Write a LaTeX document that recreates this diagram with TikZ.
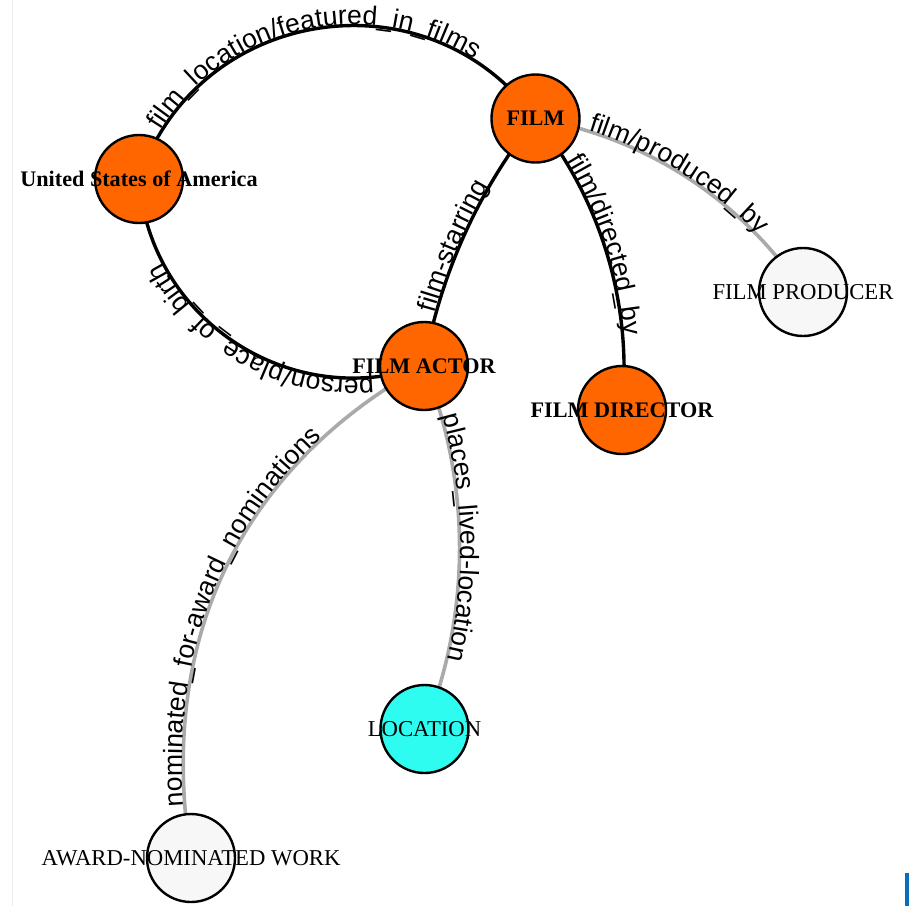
\documentclass[tikz,border=0pt]{standalone}
\usepackage{fontspec}
\setmainfont{Liberation Serif}
\newfontfamily\edgesans{Liberation Sans}
\usetikzlibrary{decorations.text,backgrounds}
\definecolor{nodeorange}{RGB}{255,102,0}
\definecolor{nodecyan}{RGB}{46,252,240}
\definecolor{nodepale}{RGB}{247,247,247}
\definecolor{edgegray}{RGB}{170,170,170}
\definecolor{barblue}{RGB}{10,110,190}
\definecolor{framegray}{RGB}{236,236,236}
\newcommand\edgefont{\edgesans\fontsize{26.5}{31}\selectfont}
\begin{document}
\begin{tikzpicture}[x=1pt,y=1pt,
  vertex/.style={circle, draw=black, line width=2.4pt, minimum size=88pt, inner sep=0pt},
  hot/.style={vertex, fill=nodeorange},
  pale/.style={vertex, fill=nodepale},
  sea/.style={vertex, fill=nodecyan},
  boldlbl/.style={font=\fontsize{22.2}{26}\selectfont\bfseries, inner sep=0pt, text=black},
  plainlbl/.style={font=\fontsize{22.7}{26}\selectfont, inner sep=0pt, text=black},
  darkedge/.style={draw=black, line width=3.4pt},
  lightedge/.style={draw=edgegray, line width=3.6pt},
  edgetext/.style 2 args={postaction={decorate, decoration={text along path,
      text align={align=left, left indent=#2}, text color=black, raise=1pt,
      text={|\edgefont|#1}}}}
]
\useasboundingbox (0,0) rectangle (909,-906);

% nodes
\node[hot]  (usa)      at (139,-179)   {};
\node[hot]  (film)     at (535.5,-118.5) {};
\node[hot]  (actor)    at (424,-366)   {};
\node[hot]  (director) at (622,-410)   {};
\node[pale] (producer) at (803,-292)   {};
\node[sea]  (location) at (424.5,-729) {};
\node[pale] (award)    at (191,-858)   {};

\node[boldlbl]  (usa-l)      at (usa)      {United States of America};
\node[boldlbl]  (film-l)     at (film)     {FILM};
\node[boldlbl]  (actor-l)    at (actor)    {FILM ACTOR};
\node[boldlbl]  (director-l) at (director) {FILM DIRECTOR};
\node[plainlbl] (producer-l) at (producer) {FILM PRODUCER};
\node[plainlbl] (location-l) at (location) {LOCATION};
\node[plainlbl] (award-l)    at (award)    {AWARD-NOMINATED WORK};

\begin{scope}[on background layer]
  \fill[white] (0,0) rectangle (909,-906);
  \draw[framegray, line width=1pt] (12,0) -- (12,-906);
  \fill[barblue] (905,-873) rectangle (909,-906);

  \draw[darkedge, edgetext={film{\_}location/featured{\_}in{\_}films}{53pt}]
    (usa.center) to[bend left=62.7, looseness=1.17] (film.center);
  \draw[darkedge, edgetext={person/place{\_}of{\_}birth}{52pt}]
    (actor.center) to[bend left=52.4, looseness=1.06] (usa.center);
  \draw[darkedge, edgetext={film-starring}{54pt}]
    (actor.center) to[bend left=14.3, looseness=0.87] (film.center);
  \draw[darkedge, edgetext={film/directed{\_}by}{52pt}]
    (film.center) to[bend left=22.4, looseness=0.885] (director.center);
  \draw[lightedge, edgetext={film/produced{\_}by}{54pt}]
    (film.center) to[bend left=23.4, looseness=0.89] (producer.center);
  \draw[lightedge, edgetext={places{\_}lived-location}{53pt}]
    (actor.center) to[bend left=22.1, looseness=0.884] (location.center);
  \draw[lightedge, edgetext={nominated{\_}for-award{\_}nominations}{52pt}]
    (award.center) .. controls (150.5,-605.1) and (273.8,-448) .. (actor.center);
\end{scope}
\end{tikzpicture}
\end{document}
